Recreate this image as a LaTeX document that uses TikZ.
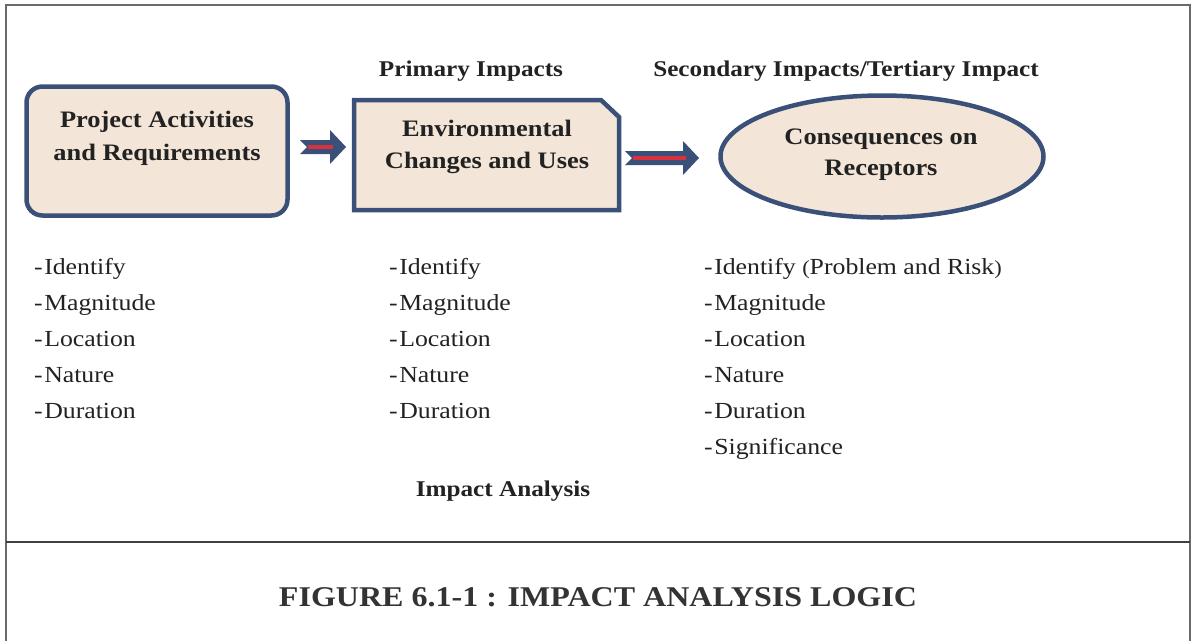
\documentclass[tikz,border=0pt]{standalone}
\usepackage{fontspec}
\setmainfont{Liberation Serif}[FakeStretch=1.12]
\usetikzlibrary{calc}
\definecolor{navy}{HTML}{3B5078}
\definecolor{beige}{HTML}{F3E5D8}
\definecolor{arrred}{HTML}{D8323F}
\definecolor{txt}{HTML}{222222}
\definecolor{framec}{HTML}{6A6A6A}
\newcommand\myblockarrow[2]{%
  \fill[navy] let \p1=(#1), \p2=(#2) in
    (\x1,\y1+7pt) -- (\x2-16pt,\y1+7pt) -- (\x2-16pt,\y1+17pt) -- (\x2,\y1)
    -- (\x2-16pt,\y1-17pt) -- (\x2-16pt,\y1-7pt) -- (\x1,\y1-7pt) -- (\x1+7pt,\y1) -- cycle;
  \draw[arrred, line width=3.6pt] let \p1=(#1), \p2=(#2) in
    (\x1+8pt,\y1) -- (\x2-13pt,\y1);}
\begin{document}
\begin{tikzpicture}[x=1pt,y=-1pt,
  boxline/.style={draw=navy, line width=4.5pt, fill=beige},
  boxtxt/.style={font=\fontsize{23.6}{28}\selectfont\bfseries, text=txt, inner sep=0pt, anchor=base},
  headtxt/.style={font=\fontsize{22.5}{26}\selectfont\bfseries, text=txt, inner sep=0pt, anchor=base},
  listtxt/.style={font=\fontsize{23}{28}\selectfont, text=txt, inner sep=0pt, anchor=base west},
  framel/.style={draw=framec, line width=1.6pt}]
\useasboundingbox (0,0) rectangle (1192,641);
\fill[white] (0,0) rectangle (1192,641);
% frame
\draw[framel] (6,641) -- (6,5) -- (1190,5) -- (1190,641);
\draw[framel, draw=black!75, line width=2pt] (6,542) -- (1190,542);
% box 1
\draw[boxline, rounded corners=16pt] (26.5,86.5) rectangle (287.5,215.5);
\node[inner sep=0pt] (b1) at (157,151) {};
\node[boxtxt] (t1a) at (157,127) {Project Activities};
\node[boxtxt] (t1b) at (157,160) {and Requirements};
% box 2
\draw[boxline] (354,100) -- (601,100) -- (619,117) -- (619,210) -- (354,210) -- cycle;
\node[boxtxt] (t2a) at (487,136) {Environmental};
\node[boxtxt] (t2b) at (487,168) {Changes and Uses};
% ellipse
\draw[boxline] (882,156.5) ellipse [x radius=161.5, y radius=61];
\node[inner sep=0pt] (e3) at (882,156.5) {};
\node[boxtxt] (t3a) at (881,144) {Consequences on};
\node[boxtxt] (t3b) at (881,175) {Receptors};
% arrows
\coordinate (a1s) at (300,147);
\coordinate (a1e) at (346,147);
\coordinate (a2s) at (625,158);
\coordinate (a2e) at (699,158);
\myblockarrow{a1s}{a1e}
\myblockarrow{a2s}{a2e}
% headings
\node[headtxt] (h1) at (471,76) {Primary Impacts};
\node[headtxt] (h2) at (846,76) {Secondary Impacts/Tertiary Impact};
% lists
\foreach \t [count=\i] in {Identify,Magnitude,Location,Nature,Duration}
  \node[listtxt] (la\i) at (34,{238+36*\i}) {-\hspace{1.5pt}\t};
\foreach \t [count=\i] in {Identify,Magnitude,Location,Nature,Duration}
  \node[listtxt] (lb\i) at (389,{238+36*\i}) {-\hspace{1.5pt}\t};
\foreach \t [count=\i] in {{Identify {\fontsize{20}{24}\selectfont(}Problem and Risk{\fontsize{20}{24}\selectfont)}},Magnitude,Location,Nature,Duration,Significance}
  \node[listtxt] (lc\i) at (704,{238+36*\i}) {-\hspace{1.5pt}\t};
\node[headtxt] (ia) at (503,496) {Impact Analysis};
\node[font=\fontsize{28.6}{34}\selectfont\bfseries, text=black!80, inner sep=0pt, anchor=base] (cap) at (598,606) {FIGURE 6.1-1 : IMPACT ANALYSIS LOGIC};
\end{tikzpicture}
\end{document}
